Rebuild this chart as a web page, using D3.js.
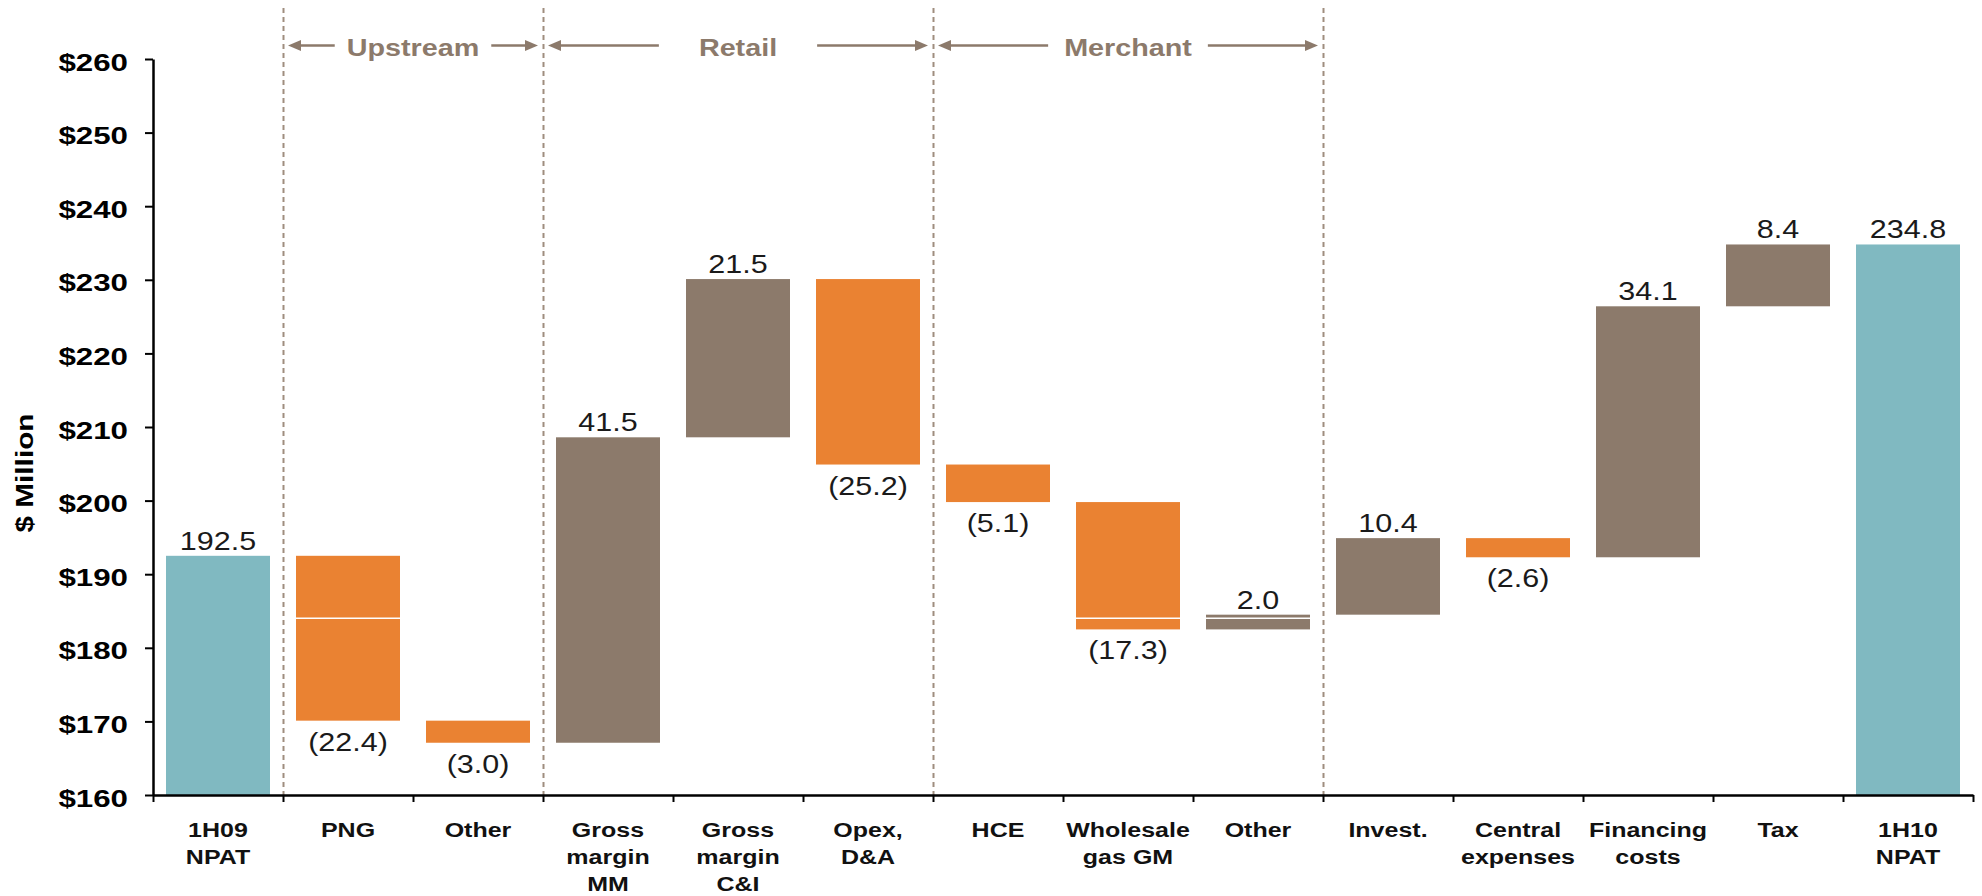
<!DOCTYPE html>
<html>
<head>
<meta charset="utf-8">
<script src="https://cdn.jsdelivr.net/npm/d3@7"></script>
<style>
  html, body { margin: 0; padding: 0; background: #ffffff; }
  svg { display: block; }
</style>
</head>
<body>
<svg id="chart" width="1982" height="896"></svg>
<script>
// ---- data -------------------------------------------------------------
const categories = [
  "1H09\nNPAT", "PNG", "Other", "Gross\nmargin\nMM", "Gross\nmargin\nC&I",
  "Opex,\nD&A", "HCE", "Wholesale\ngas GM", "Other", "Invest.",
  "Central\nexpenses", "Financing\ncosts", "Tax", "1H10\nNPAT"
];
// NPAT totals and the movements between them ($ million)
const values = [192.5, -22.4, -3.0, 41.5, 21.5, -25.2, -5.1, -17.3, 2.0, 10.4, -2.6, 34.1, 8.4, 234.8];
const barKinds = ["total", "delta", "delta", "delta", "delta", "delta", "delta",
                  "delta", "delta", "delta", "delta", "delta", "delta", "total"];
// level where a bar is drawn as two stacked pieces
const splitLevels = [null, 184.0, null, null, null, null, null, 184.0, 184.0, null, null, null, null, null];
const yTicks = [160, 170, 180, 190, 200, 210, 220, 230, 240, 250, 260];
const segmentNames = ["Upstream", "Retail", "Merchant"];
const segmentFirst = [1, 3, 6];
const segmentLast = [2, 5, 8];

// ---- look ---------------------------------------------------------------
const COLORS = { total: "#80b9c1", up: "#8c7a6b", down: "#ea8232", segment: "#8c7a6b", divider: "#9f8d7f" };
const FONT = "'Liberation Sans', Arial, Helvetica, sans-serif";
const arrowGap = { Upstream: 12, Retail: 40, Merchant: 16 };

const plot = { left: 153, right: 1973, top: 59, bottom: 795 };

const svg = d3.select("#chart");

const x = d3.scaleBand()
  .domain(d3.range(categories.length))
  .range([plot.left, plot.right])
  .paddingInner(0.2)
  .paddingOuter(0.1);
const step = x.step();
const edge = i => x(i) - step * 0.1;           // left boundary of category i
const xEdge = d3.scaleLinear().domain([0, categories.length]).range([plot.left, plot.right]);

const y = d3.scaleLinear().domain([160, 260]).range([plot.bottom, plot.top]);

// ---- waterfall geometry -------------------------------------------------
let running = 0;
const bars = values.map((v, i) => {
  let lo, hi, kind;
  if (barKinds[i] === "total") {
    lo = y.domain()[0]; hi = v; running = v; kind = "total";
  } else {
    const start = running, end = running + v;
    lo = Math.min(start, end); hi = Math.max(start, end);
    running = end; kind = v >= 0 ? "up" : "down";
  }
  return { i, v, lo, hi, kind, split: splitLevels[i] };
});

const fmt = v => v < 0 ? "(" + Math.abs(v).toFixed(1) + ")" : v.toFixed(1);

// horizontally widened text
function place(sel, tx, ty, sx) {
  return sel.attr("transform", `translate(${tx},${ty}) scale(${sx},1)`);
}

// ---- segment dividers ----------------------------------------------------
const dividerIdx = Array.from(new Set(segmentFirst.concat(segmentLast.map(d => d + 1)))).sort((a, b) => a - b);
svg.append("g").selectAll("line").data(dividerIdx).join("line")
  .attr("x1", d => xEdge(d) + 0.5).attr("x2", d => xEdge(d) + 0.5)
  .attr("y1", 8).attr("y2", plot.bottom)
  .attr("stroke", COLORS.divider)
  .attr("stroke-width", 2)
  .attr("stroke-dasharray", "5,4");

// ---- bars ---------------------------------------------------------------
const gBars = svg.append("g");
gBars.selectAll("rect").data(bars).join("rect")
  .attr("x", d => x(d.i))
  .attr("width", x.bandwidth())
  .attr("y", d => y(d.hi))
  .attr("height", d => y(d.lo) - y(d.hi))
  .attr("fill", d => COLORS[d.kind]);

gBars.selectAll("line.split").data(bars.filter(d => d.split != null)).join("line")
  .attr("class", "split")
  .attr("x1", d => x(d.i)).attr("x2", d => x(d.i) + x.bandwidth())
  .attr("y1", d => y(d.split)).attr("y2", d => y(d.split))
  .attr("stroke", "#ffffff").attr("stroke-width", 1.5);

// ---- value labels ---------------------------------------------------------
const gVals = svg.append("g")
  .attr("font-family", FONT).attr("font-size", 25).attr("fill", "#1a1a1a")
  .attr("text-anchor", "middle");
gVals.selectAll("text").data(bars).join("text")
  .text(d => fmt(d.v))
  .each(function (d) {
    const cx = x(d.i) + x.bandwidth() / 2;
    const ty = d.kind === "down" ? y(d.lo) + 30 : y(d.hi) - 6;
    place(d3.select(this), cx, ty, 1.22);
  });

// ---- axes -----------------------------------------------------------------
const gy = svg.append("g")
  .attr("transform", `translate(${plot.left},0)`)
  .call(d3.axisLeft(y).tickValues(yTicks).tickSize(8).tickSizeOuter(0).tickFormat(d => "$" + d));
gy.select(".domain").attr("stroke", "#000").attr("stroke-width", 2.5);
gy.selectAll(".tick line").attr("stroke", "#000").attr("stroke-width", 2);
gy.selectAll(".tick text")
  .attr("x", null).attr("dy", null)
  .attr("font-family", FONT).attr("font-weight", "bold").attr("font-size", 23)
  .attr("fill", "#000").attr("text-anchor", "end")
  .attr("transform", "translate(-25,11) scale(1.36,1)");

const gx = svg.append("g")
  .attr("transform", `translate(0,${plot.bottom})`)
  .call(d3.axisBottom(xEdge).tickValues(d3.range(categories.length + 1)).tickSize(7).tickSizeOuter(0).tickFormat(""));
gx.select(".domain").attr("stroke", "#000").attr("stroke-width", 2.5);
gx.selectAll(".tick line").attr("stroke", "#000").attr("stroke-width", 2);

// category labels
const gCat = svg.append("g")
  .attr("font-family", FONT).attr("font-weight", "bold").attr("font-size", 20.5)
  .attr("fill", "#111").attr("text-anchor", "middle");
categories.forEach((c, i) => {
  c.split("\n").forEach((line, k) => {
    const t = gCat.append("text").text(line);
    place(t, x(i) + x.bandwidth() / 2, 837 + k * 27, 1.22);
  });
});

// y axis title
svg.append("text")
  .text("$ Million")
  .attr("font-family", FONT).attr("font-weight", "bold").attr("font-size", 24)
  .attr("fill", "#000").attr("text-anchor", "middle")
  .attr("transform", "translate(33,473) rotate(-90) scale(1.24,1)");

// ---- segment headers with arrows -----------------------------------------
const headY = 45.5;
const gHead = svg.append("g").attr("fill", COLORS.segment);
segmentNames.forEach((name, s) => {
  const x0 = edge(segmentFirst[s]), x1 = edge(segmentLast[s] + 1);
  const cx = (x0 + x1) / 2;
  const sx = 1.25;
  const t = gHead.append("text").text(name)
    .attr("font-family", FONT).attr("font-weight", "bold").attr("font-size", 23)
    .attr("text-anchor", "middle");
  place(t, cx, 56, sx);
  const half = t.node().getComputedTextLength() * sx / 2;
  const gap = arrowGap[name];
  const tipL = x0 + 5, tipR = x1 - 5;
  const ahLen = 13, ahHalf = 5.5;
  gHead.append("line")
    .attr("x1", tipL + ahLen - 1).attr("x2", cx - half - gap)
    .attr("y1", headY).attr("y2", headY)
    .attr("stroke", COLORS.segment).attr("stroke-width", 2.4);
  gHead.append("line")
    .attr("x1", cx + half + gap).attr("x2", tipR - ahLen + 1)
    .attr("y1", headY).attr("y2", headY)
    .attr("stroke", COLORS.segment).attr("stroke-width", 2.4);
  gHead.append("path")
    .attr("d", `M${tipL},${headY}L${tipL + ahLen},${headY - ahHalf}L${tipL + ahLen},${headY + ahHalf}Z`);
  gHead.append("path")
    .attr("d", `M${tipR},${headY}L${tipR - ahLen},${headY - ahHalf}L${tipR - ahLen},${headY + ahHalf}Z`);
});
</script>
</body>
</html>
